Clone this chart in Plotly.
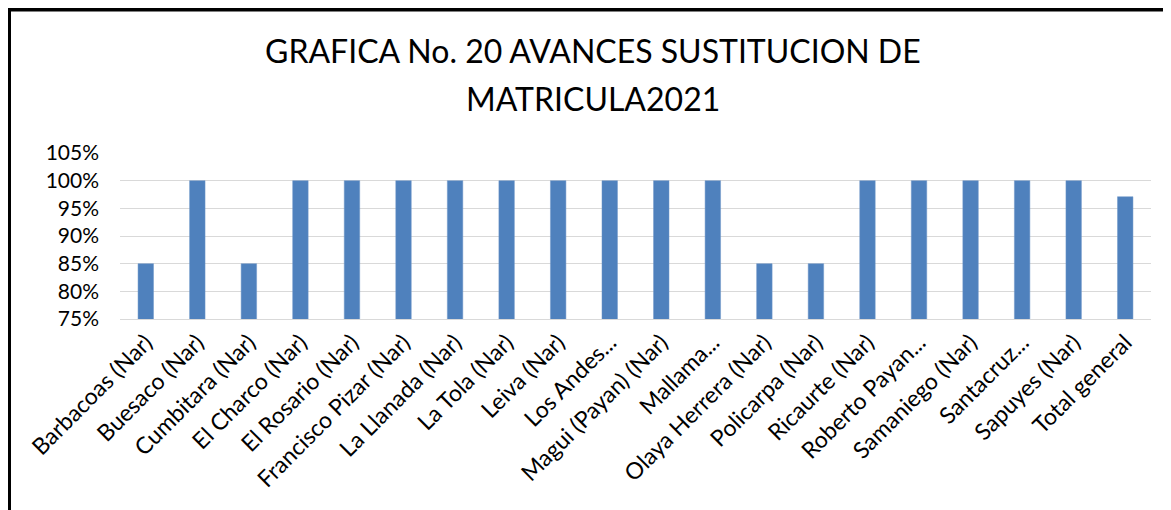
import plotly.graph_objects as go

categories = ["Barbacoas (Nar)", "Buesaco (Nar)", "Cumbitara (Nar)", "El Charco (Nar)",
              "El Rosario (Nar)", "Francisco Pizar (Nar)", "La Llanada (Nar)", "La Tola (Nar)",
              "Leiva (Nar)", "Los Andes...", "Magui (Payan) (Nar)", "Mallama...",
              "Olaya Herrera (Nar)", "Policarpa (Nar)", "Ricaurte (Nar)", "Roberto Payan...",
              "Samaniego (Nar)", "Santacruz...", "Sapuyes (Nar)", "Total general"]
values = [0.85, 1.00, 0.85, 1.00, 1.00, 1.00, 1.00, 1.00, 1.00, 1.00, 1.00, 1.00,
          0.85, 0.85, 1.00, 1.00, 1.00, 1.00, 1.00, 0.971]
tick_vals = [0.75, 0.80, 0.85, 0.90, 0.95, 1.00, 1.05]
tick_text = ["75%", "80%", "85%", "90%", "95%", "100%", "105%"]
title_lines = ["GRAFICA No. 20 AVANCES SUSTITUCION DE", "MATRICULA2021"]

FONT = "Lato"
OFF = 8  # default body margin of the html page

W, H = 1171 - OFF, 510 - OFF
L, T = 120 - OFF, 153 - OFF
B = 510 - 319
R = W - (1151 - OFF)
PW = W - L - R
PH = H - T - B


def px_x(px):
    return (px - OFF - L) / PW


def px_y(py):
    return (H - B - (py - OFF)) / PH


fig = go.Figure()
fig.add_trace(go.Bar(x=categories, y=values, marker=dict(color="#4f81bd",
                     line=dict(color="#6f97c9", width=0.5)), width=0.3))

annotations = []
for i, (line, py) in enumerate(zip(title_lines, [50, 98])):
    annotations.append(dict(text=line, xref="paper", yref="paper", x=px_x(593), y=px_y(py),
                            xanchor="center", yanchor="middle", showarrow=False,
                            font=dict(size=32, family=FONT, color="black")))

fig.update_layout(
    width=W, height=H,
    margin=dict(l=L, r=R, t=T, b=B),
    paper_bgcolor="white", plot_bgcolor="white",
    font=dict(family=FONT, color="black"),
    showlegend=False,
    annotations=annotations,
    xaxis=dict(tickangle=-45, tickfont=dict(size=23, family=FONT), showgrid=False,
               showline=True, linecolor="#d9d9d9", ticks="", automargin=False),
    yaxis=dict(range=[0.75, 1.05], tickvals=tick_vals, ticktext=tick_text,
               tickfont=dict(size=21, family=FONT), showgrid=True, gridcolor="#d9d9d9",
               gridwidth=1, zeroline=False, ticks="", ticklen=0, automargin=False,
               ticklabelstandoff=20),
    shapes=[
        dict(type="line", xref="paper", yref="paper", x0=px_x(9), x1=px_x(9),
             y0=px_y(8), y1=px_y(530), line=dict(color="black", width=4)),
        dict(type="line", xref="paper", yref="paper", x0=px_x(7), x1=px_x(1200),
             y0=px_y(9.5), y1=px_y(9.5), line=dict(color="black", width=4)),
    ],
)
fig.write_html("out.html")
